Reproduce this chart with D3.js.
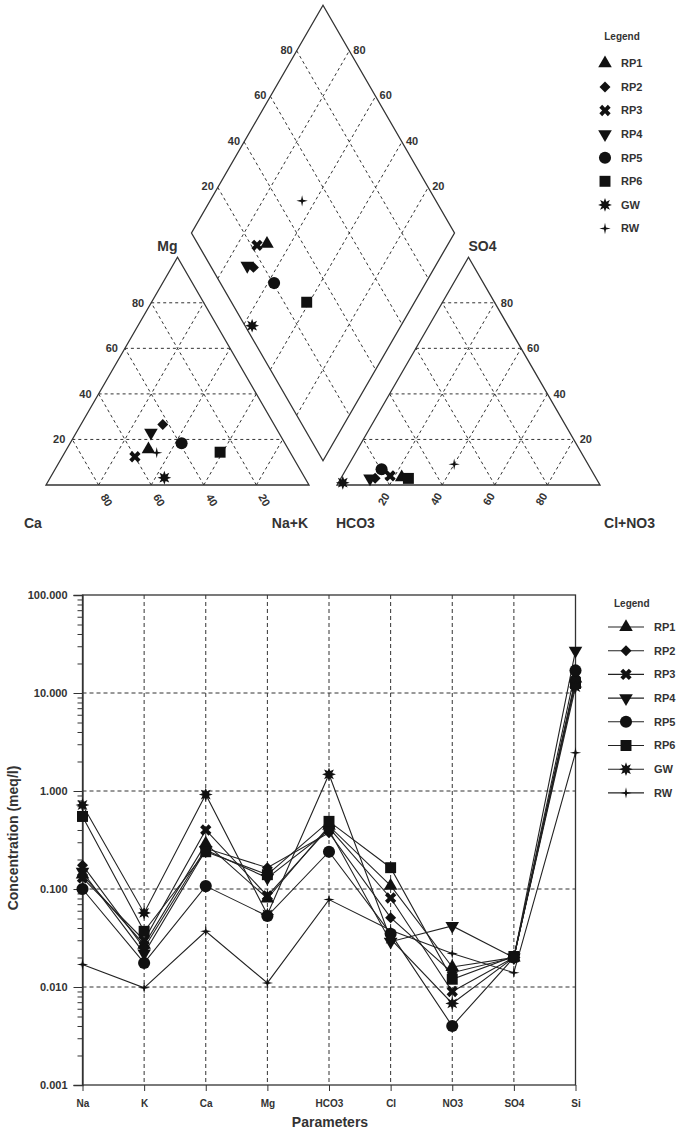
<!DOCTYPE html>
<html>
<head>
<meta charset="utf-8">
<script src="https://cdn.jsdelivr.net/npm/d3@7"></script>
<style>
  body { margin: 0; background: #fff; }
  text { font-family: "Liberation Sans", Arial, sans-serif; font-weight: bold; fill: #333; }
</style>
</head>
<body>
<svg id="chart" width="685" height="1136"></svg>
<script>
// samples and parameters
const samples = ["RP1", "RP2", "RP3", "RP4", "RP5", "RP6", "GW", "RW"];
const parameters = ["Na", "K", "Ca", "Mg", "HCO3", "Cl", "NO3", "SO4", "Si"];

// Piper: cation percentages (Ca, Mg, Na+K) per sample
const cationCa  = [53.2, 42.3, 60.0, 48.6, 39.3, 26.6, 53.4, 50.8];
const cationMg  = [15.7, 26.6, 12.4, 23.0, 18.3, 14.4,  3.2, 14.2];
const cationNaK = [31.1, 31.1, 27.6, 28.4, 42.4, 59.0, 43.4, 35.0];
// Piper: anion percentages (HCO3, SO4, Cl+NO3) per sample
const anionHCO3  = [73.7, 84.0, 77.8, 86.0, 79.6, 71.4, 97.3, 50.9];
const anionSO4   = [ 3.4,  3.0,  4.0,  2.9,  6.9,  2.9,  1.0,  9.1];
const anionClNO3 = [22.9, 13.0, 18.2, 11.1, 13.5, 25.7,  1.7, 40.0];

// Schoeller: concentrations (meq/l) in parameter order
const rp1 = [0.14, 0.027, 0.29, 0.080, 0.44, 0.108, 0.016, 0.020, 14.0];
const rp2 = [0.175, 0.025, 0.26, 0.165, 0.375, 0.051, 0.014, 0.020, 13.0];
const rp3 = [0.13, 0.030, 0.40, 0.085, 0.42, 0.081, 0.009, 0.020, 13.5];
const rp4 = [0.15, 0.022, 0.25, 0.130, 0.40, 0.029, 0.042, 0.020, 27.0];
const rp5 = [0.10, 0.0176, 0.107, 0.053, 0.24, 0.035, 0.004, 0.020, 17.0];
const rp6 = [0.55, 0.037, 0.24, 0.140, 0.49, 0.165, 0.012, 0.0205, 12.5];
const gw  = [0.72, 0.057, 0.92, 0.055, 1.48, 0.031, 0.0068, 0.020, 11.5];
const rw  = [0.017, 0.0098, 0.037, 0.011, 0.078, 0.038, 0.022, 0.014, 2.46];
const concentrations = [rp1, rp2, rp3, rp4, rp5, rp6, gw, rw];

const pctTicks = [20, 40, 60, 80];
const concTicks = [0.001, 0.01, 0.1, 1, 10, 100];

const ink = "#222";
const svg = d3.select("#chart");

// marker shapes
const starShape = (points, inner, k) => ({
  draw(ctx, size) {
    const R = Math.sqrt(size) * k, r = R * inner;
    for (let i = 0; i < points * 2; i++) {
      const a = Math.PI * i / points - Math.PI / 2;
      const rr = i % 2 ? r : R;
      if (i) ctx.lineTo(rr * Math.cos(a), rr * Math.sin(a));
      else ctx.moveTo(rr * Math.cos(a), rr * Math.sin(a));
    }
    ctx.closePath();
  }
});
const markers = {
  RP1: { type: d3.symbolTriangle, size: 80, rot: 0 },
  RP2: { type: d3.symbolSquare, size: 60, rot: 45 },
  RP3: { type: d3.symbolCross, size: 80, rot: 45 },
  RP4: { type: d3.symbolTriangle, size: 80, rot: 180 },
  RP5: { type: d3.symbolCircle, size: 115, rot: 0 },
  RP6: { type: d3.symbolSquare, size: 120, rot: 0 },
  GW:  { type: starShape(8, 0.5, 0.66), size: 110, rot: 0 },
  RW:  { type: starShape(4, 0.25, 0.6), size: 90, rot: 0 }
};
const drawMarker = (g, name, x, y, scale = 1) => {
  const m = markers[name];
  g.append("path")
    .attr("d", d3.symbol().type(m.type).size(m.size * scale)())
    .attr("transform", `translate(${x},${y}) rotate(${m.rot})`)
    .attr("fill", "#111");
};

// ---------------- Piper diagram ----------------
const side = 263, gap = 28, baseY = 485, x0 = 46;
const h = side * Math.sqrt(3) / 2;
const ax0 = x0 + side + gap;
const frac = d3.scaleLinear().domain([0, 100]).range([0, 1]);

const cationPt = (ca, mg, na) => [x0 + (na + mg / 2) * side, baseY - mg * h];
const anionPt = (hc, so, cl) => [ax0 + (cl + so / 2) * side, baseY - so * h];
const diamondPt = (na, hc) => {
  const t = gap + side * (2 - hc - na);
  return [x0 + na * side + 0.5 * t, baseY - Math.sqrt(3) / 2 * t];
};

const piper = svg.append("g");
const line = d3.line();
const outline = (pts) => piper.append("path")
  .attr("d", line(pts) + "Z")
  .attr("fill", "none").attr("stroke", "#333").attr("stroke-width", 1.3);
const dashed = (a, b) => piper.append("path")
  .attr("d", line([a, b]))
  .attr("fill", "none").attr("stroke", "#333").attr("stroke-width", 1)
  .attr("stroke-dasharray", "3,3");

// grid
pctTicks.map(frac).forEach(k => {
  dashed(cationPt(1 - k, k, 0), cationPt(0, k, 1 - k));
  dashed(cationPt(1 - k, 0, k), cationPt(0, 1 - k, k));
  dashed(cationPt(k, 0, 1 - k), cationPt(k, 1 - k, 0));
  dashed(anionPt(1 - k, k, 0), anionPt(0, k, 1 - k));
  dashed(anionPt(1 - k, 0, k), anionPt(0, 1 - k, k));
  dashed(anionPt(k, 0, 1 - k), anionPt(k, 1 - k, 0));
  dashed(diamondPt(k, 1), diamondPt(k, 0));
  dashed(diamondPt(0, k), diamondPt(1, k));
});

outline([cationPt(1, 0, 0), cationPt(0, 0, 1), cationPt(0, 1, 0)]);
outline([anionPt(1, 0, 0), anionPt(0, 0, 1), anionPt(0, 1, 0)]);
outline([diamondPt(1, 1), diamondPt(0, 1), diamondPt(0, 0), diamondPt(1, 0)]);

// scale labels
const lbl = (txt, x, y, anchor, rot) => piper.append("text")
  .text(txt)
  .attr("transform", `translate(${x},${y})` + (rot ? ` rotate(${rot})` : ""))
  .attr("text-anchor", anchor).attr("dy", "0.35em")
  .attr("font-size", 11);

pctTicks.forEach(v => {
  const k = frac(v);
  let p = cationPt(1 - k, k, 0);
  lbl(v, p[0] - 7, p[1], "end");
  p = cationPt(k, 0, 1 - k);
  lbl(v, p[0] + 8, p[1] + 15, "middle", 60);
  p = anionPt(0, k, 1 - k);
  lbl(v, p[0] + 6, p[1], "start");
  p = anionPt(1 - k, 0, k);
  lbl(v, p[0] - 6, p[1] + 14, "middle", -60);
  p = diamondPt(0, 1 - k);
  lbl(v, p[0] - 4, p[1] - 1, "end");
  p = diamondPt(1 - k, 0);
  lbl(v, p[0] + 4, p[1] - 1, "start");
});

// corner labels
const corner = (txt, x, y, anchor) => piper.append("text")
  .text(txt).attr("x", x).attr("y", y)
  .attr("text-anchor", anchor).attr("font-size", 14);
corner("Mg", x0 + side / 2, baseY - h - 6, "end");
corner("SO4", ax0 + side / 2, baseY - h - 6, "start");
corner("Ca", 24, 528, "start");
corner("Na+K", x0 + side - 1, 528, "end");
corner("HCO3", ax0 - 1, 528, "start");
corner("Cl+NO3", 655, 528, "end");

// points
samples.forEach((s, i) => {
  const ca = frac(cationCa[i]), mg = frac(cationMg[i]), na = frac(cationNaK[i]);
  const hc = frac(anionHCO3[i]), so = frac(anionSO4[i]), cl = frac(anionClNO3[i]);
  let p = cationPt(ca, mg, na);
  drawMarker(piper, s, p[0], p[1]);
  p = anionPt(hc, so, cl);
  drawMarker(piper, s, p[0], p[1]);
  p = diamondPt(na, hc);
  drawMarker(piper, s, p[0], p[1]);
});

// legend (top)
const legTop = svg.append("g");
legTop.append("text").text("Legend").attr("x", 622).attr("y", 40)
  .attr("text-anchor", "middle").attr("font-size", 10);
samples.forEach((s, i) => {
  const y = 63.3 + i * 23.6;
  drawMarker(legTop, s, 605, y);
  legTop.append("text").text(s).attr("x", 621).attr("y", y)
    .attr("dy", "0.35em").attr("font-size", 11);
});

// ---------------- Schoeller diagram ----------------
const plotLeft = 82.5, plotRight = 575.5, plotTop = 595, plotBottom = 1085;
const xScale = d3.scalePoint().domain(parameters).range([plotLeft, plotRight]);
const yScale = d3.scaleLog().domain([0.001, 100]).range([plotBottom, plotTop]);

const sch = svg.append("g");

// grid
sch.selectAll(".hgrid")
  .data(concTicks.slice(1, -1))
  .join("line")
  .attr("x1", plotLeft).attr("x2", plotRight)
  .attr("y1", d => yScale(d)).attr("y2", d => yScale(d))
  .attr("stroke", "#333").attr("stroke-dasharray", "4,3");
sch.selectAll(".vgrid")
  .data(parameters.slice(1, -1))
  .join("line")
  .attr("x1", d => xScale(d)).attr("x2", d => xScale(d))
  .attr("y1", plotTop).attr("y2", plotBottom)
  .attr("stroke", "#333").attr("stroke-dasharray", "4,3");

sch.append("rect")
  .attr("x", plotLeft).attr("y", plotTop)
  .attr("width", plotRight - plotLeft).attr("height", plotBottom - plotTop)
  .attr("fill", "none").attr("stroke", "#333").attr("stroke-width", 1.3);

// axes
const minorTicks = [];
concTicks.slice(0, -1).forEach(d => { for (let m = 2; m < 10; m++) minorTicks.push(d * m); });
sch.append("g")
  .attr("transform", `translate(${plotLeft},0)`)
  .call(d3.axisLeft(yScale).tickValues(minorTicks).tickSize(5).tickFormat(""))
  .call(g => g.select(".domain").remove());
const leftAxis = sch.append("g")
  .attr("transform", `translate(${plotLeft},0)`)
  .call(d3.axisLeft(yScale).tickValues(concTicks).tickSize(9).tickPadding(6)
    .tickFormat(d3.format(".3f")));
leftAxis.select(".domain").attr("stroke", "#333").attr("stroke-width", 1.3);
leftAxis.selectAll("text").attr("font-size", 11).attr("fill", "#333")
  .attr("font-family", "Liberation Sans, Arial, sans-serif");

const bottomAxis = sch.append("g")
  .attr("transform", `translate(0,${plotBottom})`)
  .call(d3.axisBottom(xScale).tickSize(6).tickPadding(9));
bottomAxis.select(".domain").remove();
bottomAxis.selectAll("text").attr("font-size", 10).attr("fill", "#333")
  .attr("font-family", "Liberation Sans, Arial, sans-serif");
sch.selectAll(".tick line").attr("stroke", "#333");

sch.append("text").text("Concentration (meq/l)")
  .attr("transform", `translate(18,838) rotate(-90)`)
  .attr("text-anchor", "middle").attr("font-size", 14);
sch.append("text").text("Parameters")
  .attr("x", 330).attr("y", 1127)
  .attr("text-anchor", "middle").attr("font-size", 14);

// series
const schLine = d3.line()
  .x((d, i) => xScale(parameters[i]))
  .y(d => yScale(d));
samples.forEach((s, i) => {
  sch.append("path")
    .attr("d", schLine(concentrations[i]))
    .attr("fill", "none").attr("stroke", ink).attr("stroke-width", 1.1);
});
samples.forEach((s, i) => {
  concentrations[i].forEach((v, j) => drawMarker(sch, s, xScale(parameters[j]), yScale(v)));
});

// legend (bottom)
const legBot = svg.append("g");
legBot.append("text").text("Legend").attr("x", 614).attr("y", 607)
  .attr("font-size", 10);
samples.forEach((s, i) => {
  const y = 627 + i * 23.7;
  legBot.append("line").attr("x1", 608).attr("x2", 644).attr("y1", y).attr("y2", y)
    .attr("stroke", ink).attr("stroke-width", 1.1);
  drawMarker(legBot, s, 626, y);
  legBot.append("text").text(s).attr("x", 654).attr("y", y)
    .attr("dy", "0.35em").attr("font-size", 11);
});
</script>
</body>
</html>
